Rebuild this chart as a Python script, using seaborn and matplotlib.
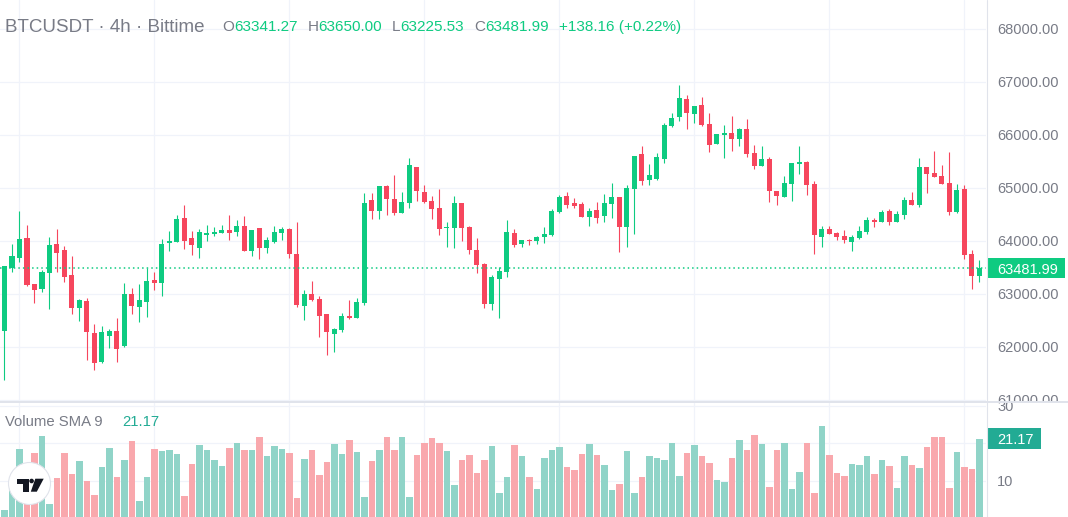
import numpy as np
import pandas as pd
import matplotlib
matplotlib.use("Agg")
import matplotlib.pyplot as plt
import seaborn as sns
from matplotlib.patches import Rectangle, Circle, Polygon

# ---------------- data ----------------
opens = [62303, 63497, 63686, 64059, 63187, 63099, 63402, 63945, 63831, 63358,
         62738, 62865, 62258, 61715, 62208, 62296, 62018, 62998, 62757, 62852,
         63263, 63212, 63970, 63989, 64438, 64059, 63876, 64122, 64141, 64160,
         64210, 64172, 64286, 63819, 64248, 63876, 63983, 64160, 64229, 63762,
         62776, 62998, 62903, 62618, 62246, 62315, 62581, 62549, 62827, 64779,
         64570, 65044, 64798, 64533, 64722, 65404, 64931, 64760, 64627, 64236,
         64248, 64722, 64267, 63831, 63566, 62814, 63288, 63421, 64154, 63951,
         64027, 64008, 64078, 64116, 64551, 64855, 64722, 64703, 64457, 64589,
         64476, 64703, 64836, 64267, 64987, 65648, 65158, 65177, 65553, 66176,
         66346, 66686, 66402, 66572, 66214, 65836, 66006, 66038, 65924, 66113,
         65660, 65414, 65547, 64942, 64829, 65074, 65458, 65490, 65074, 64073,
         64224, 64149, 64092, 63979, 64054, 64168, 64394, 64356, 64564, 64356,
         64489, 64772, 64678, 65395, 65282, 65225, 65093, 64545, 64980, 63752,
         63341.27]
highs = [63528, 63945, 64570, 64305, 63187, 63452, 64078, 64229, 63907, 63718,
         62903, 62928, 62429, 62391, 62347, 62543, 63206, 63118, 63193, 63490,
         63414, 64040, 64191, 64495, 64684, 64191, 64229, 64305, 64267, 64305,
         64495, 64400, 64476, 64210, 64248, 64078, 64286, 64267, 64248, 64362,
         63073, 63244, 62960, 62618, 62353, 62637, 62884, 62922, 64912, 64912,
         65044, 65063, 65253, 64931, 65575, 65404, 65063, 64855, 64987, 64362,
         64855, 64722, 64286, 64059, 63585, 63358, 63509, 64400, 64229, 64021,
         64040, 64097, 64267, 64608, 64874, 64931, 64817, 64741, 64627, 64741,
         64893, 65101, 64836, 65063, 65613, 65799, 65461, 65651, 66233, 66421,
         66950, 66761, 66553, 66723, 66421, 66025, 66189, 66359, 66132, 66302,
         65811, 65792, 65584, 64942, 65225, 65471, 65792, 65509, 65131, 64281,
         64281, 64168, 64205, 64111, 64281, 64451, 64432, 64583, 64602, 64564,
         64829, 64923, 65565, 65395, 65698, 65433, 65679, 65074, 65055, 63828,
         63650.00]
lows = [61368, 63421, 63610, 63155, 62833, 63042, 62720, 63421, 63231, 62625,
        62486, 61747, 61557, 61696, 61980, 61715, 61999, 62625, 62467, 62568,
        63080, 62966, 63819, 63989, 63857, 63743, 63686, 64008, 64103, 64160,
        64021, 64097, 63819, 63724, 63667, 63781, 63970, 64021, 63686, 62757,
        62511, 62871, 62189, 61848, 61905, 62277, 62530, 62549, 62795, 64419,
        64419, 64495, 64495, 64533, 64627, 64760, 64722, 64419, 64116, 63888,
        63869, 64002, 63762, 63402, 62738, 62701, 62549, 63326, 63895, 63895,
        63932, 63951, 63970, 64097, 64533, 64627, 64627, 64457, 64286, 64343,
        64362, 64438, 63793, 63888, 64135, 65050, 65063, 65158, 65480, 66157,
        66270, 66119, 66233, 66176, 65685, 65836, 65565, 65698, 65792, 65584,
        65358, 65414, 64734, 64678, 64829, 64753, 65263, 64867, 63752, 63884,
        64130, 64016, 63960, 63809, 64035, 64130, 64262, 64356, 64300, 64356,
        64413, 64678, 64640, 64904, 65207, 65074, 64489, 64527, 63657, 63091,
        63225.53]
closes = [63528, 63718, 64040, 63174, 63080, 63414, 63926, 63781, 63326, 62738,
          62884, 62284, 61696, 62277, 62296, 61962, 62998, 62776, 62884, 63244,
          63212, 63945, 64002, 64419, 64008, 63926, 64172, 64154, 64172, 64210,
          64160, 64286, 63819, 64210, 63876, 64021, 64172, 64229, 63762, 62795,
          62998, 62890, 62587, 62284, 62334, 62581, 62549, 62846, 64722, 64558,
          65044, 64798, 64533, 64741, 65442, 64949, 64741, 64608, 64229, 64267,
          64722, 64248, 63838, 63553, 62814, 63320, 63433, 64172, 63926, 64021,
          64008, 64078, 64135, 64570, 64836, 64684, 64665, 64457, 64570, 64438,
          64722, 64836, 64267, 65006, 65613, 65126, 65253, 65594, 66195, 66327,
          66704, 66421, 66553, 66195, 65817, 66025, 66038, 65924, 66113, 65641,
          65414, 65547, 64942, 64848, 65093, 65471, 65490, 65055, 64111, 64224,
          64130, 64073, 64016, 64073, 64186, 64394, 64356, 64545, 64356, 64508,
          64772, 64678, 65395, 65263, 65207, 65074, 64545, 64961, 63733, 63343.83,
          63481.99]
volumes = [2.3, 9.0, 18.5, 11.0, 17.4, 21.9, 3.9, 10.8, 17.4, 11.8,
           15.3, 10.0, 6.3, 13.7, 18.7, 11.1, 15.6, 20.6, 4.7, 11.1,
           18.5, 17.9, 18.2, 17.2, 6.0, 14.5, 19.5, 18.2, 15.6, 14.0,
           18.7, 20.1, 18.2, 18.2, 21.7, 16.6, 19.3, 18.5, 17.4, 5.5,
           15.8, 18.2, 11.6, 15.0, 19.8, 17.2, 20.9, 17.7, 5.7, 15.3,
           18.2, 21.7, 18.2, 21.7, 5.7, 16.9, 20.1, 21.4, 20.1, 17.9,
           8.9, 15.6, 16.9, 12.1, 15.6, 19.3, 6.8, 11.1, 19.5, 16.6,
           11.1, 7.9, 16.1, 18.2, 19.0, 13.7, 12.9, 17.2, 19.8, 16.9,
           14.2, 7.6, 9.2, 17.9, 6.8, 11.1, 16.6, 16.1, 15.6, 20.1,
           11.3, 17.4, 19.5, 16.6, 14.8, 10.3, 9.7, 16.1, 20.9, 18.2,
           22.2, 19.8, 8.4, 18.2, 20.1, 7.9, 12.4, 20.1, 6.8, 24.6,
           16.9, 12.1, 11.3, 14.5, 14.2, 16.6, 11.8, 15.6, 14.0, 8.1,
           16.6, 14.2, 13.4, 19.0, 21.7, 21.7, 8.1, 17.7, 13.7, 13.2,
           21.17]
price_ticks = [61000, 62000, 63000, 64000, 65000, 66000, 67000, 68000]
volume_ticks = [10, 20, 30]
symbol_title = "BTCUSDT \u00b7 4h \u00b7 Bittime"
sma_title = "Volume SMA 9"
sma_value = 21.17

# ---------------- style ----------------
sns.set_theme(style="white")
plt.rcParams["font.family"] = ["Liberation Sans", "DejaVu Sans"]

UP = "#0ecb81"
DOWN = "#f6465d"
VUP = "#90d4c8"
VDOWN = "#f9a8ad"
GRID = "#f0f3fa"
BORDER = "#e0e3eb"
TXT = "#787b86"

W, H = 1068, 517
PLOT_R = 986
SPLIT = 401

fig = plt.figure(figsize=(W / 100, H / 100), dpi=100)
fig.patch.set_facecolor("white")


def px_rect(x0, y0, x1, y1):
    return [x0 / W, 1 - y1 / H, (x1 - x0) / W, (y1 - y0) / H]


ax = fig.add_axes(px_rect(0, 0, PLOT_R, SPLIT))
axv = fig.add_axes(px_rect(0, SPLIT + 1, PLOT_R, H))
axp = fig.add_axes(px_rect(PLOT_R, 0, W, SPLIT))
axvs = fig.add_axes(px_rect(PLOT_R, SPLIT + 1, W, H))
ov = fig.add_axes([0, 0, 1, 1])
ov.set_xlim(0, W)
ov.set_ylim(H, 0)
ov.axis("off")
ov.set_zorder(10)

n = len(opens)
x = np.arange(n)
o = np.array(opens, float)
c = np.array(closes, float)
hi = np.array(highs, float)
lo = np.array(lows, float)
up = c >= o
cols = np.where(up, UP, DOWN)

XLIM = (-0.6, 130.87)
PLIM = (60981, 68547)
VLIM = (0.45, 30.95)

for a in (ax, axv, axp, axvs):
    a.set_facecolor("white")
    for s in a.spines.values():
        s.set_visible(False)
    a.set_xticks([])
    a.set_yticks([])

# grid
gx = np.arange(2, n, 18) - 0.07
for p in price_ticks:
    ax.axhline(p, color=GRID, lw=0.9, zorder=0)
for v in volume_ticks:
    axv.axhline(v, color=GRID, lw=0.9, zorder=0)
for g in gx:
    ax.axvline(g, color=GRID, lw=0.9, zorder=0)
    axv.axvline(g, color=GRID, lw=0.9, zorder=0)

# candles
ax.vlines(x, lo, hi, colors=cols, lw=0.8, zorder=2)
body = np.maximum(np.abs(c - o), 19)
ax.bar(x, body, bottom=np.minimum(o, c), width=0.667, color=cols, lw=0, zorder=3)
ax.axhline(c[-1], color=UP, lw=1.1, ls=(0, (1, 2)), zorder=4)
ax.set_xlim(*XLIM)
ax.set_ylim(*PLIM)

# volume
vdf = pd.DataFrame({"idx": x, "vol": volumes, "dir": np.where(up, "up", "down")})
sns.barplot(data=vdf, x="idx", y="vol", hue="dir", palette={"up": VUP, "down": VDOWN},
            dodge=False, width=0.87, saturation=1, errorbar=None, legend=False,
            linewidth=0, ax=axv, zorder=2)
axv.set_xlim(*XLIM)
axv.set_ylim(*VLIM)
axv.set_xticks([])
axv.set_yticks([])
axv.set_xlabel("")
axv.set_ylabel("")

# price scale
axp.set_xlim(0, W - PLOT_R)
axp.set_ylim(*PLIM)
for p in price_ticks:
    axp.text(11, p, f"{p:.2f}", color=TXT, fontsize=10.5, va="center_baseline", ha="left", clip_on=True)
box_h = 20 / SPLIT * (PLIM[1] - PLIM[0])
axp.add_patch(Rectangle((1, c[-1] - box_h / 2), 78, box_h, color=UP, lw=0, zorder=5))
axp.text(11, c[-1], f"{c[-1]:.2f}", color="white", fontsize=10.5, va="center_baseline", ha="left", zorder=6)

# volume scale
axvs.set_xlim(0, W - PLOT_R)
axvs.set_ylim(*VLIM)
for v in volume_ticks:
    if v != 20:
        axvs.text(11, v, f"{v}", color=TXT, fontsize=10.5, va="center_baseline", ha="left", clip_on=True)
vbox_h = 21 / (H - SPLIT - 1) * (VLIM[1] - VLIM[0])
axvs.add_patch(Rectangle((1, sma_value - vbox_h / 2), 54, vbox_h, color="#22ab94", lw=0, zorder=5))
axvs.text(11, sma_value, f"{sma_value:.2f}", color="white", fontsize=10.5, va="center_baseline", ha="left", zorder=6)

# borders
ov.plot([PLOT_R + 0.5, PLOT_R + 0.5], [0, H], color=BORDER, lw=0.8)
ov.plot([0, W], [SPLIT + 0.5, SPLIT + 0.5], color=BORDER, lw=1.4)

# header legend
fig.canvas.draw()
rend = fig.canvas.get_renderer()


def seq(x0, y0, pieces, size):
    xx = x0
    for txt, col, gap in pieces:
        t = ov.text(xx, y0, txt, color=col, fontsize=size, va="center", ha="left")
        bb = t.get_window_extent(renderer=rend)
        xx += bb.width + gap
    return xx


seq(5, 27, [(symbol_title, TXT, 0)], 13.5)
chg = c[-1] - c[-2]
pct = chg / c[-2] * 100
seq(222, 27, [("O", TXT, 0), (f"{o[-1]:.2f}", UP, 10),
              ("H", TXT, 0), (f"{hi[-1]:.2f}", UP, 10),
              ("L", TXT, 0), (f"{lo[-1]:.2f}", UP, 10),
              ("C", TXT, 0), (f"{c[-1]:.2f}", UP, 10),
              (f"{chg:+.2f} ({pct:+.2f}%)", UP, 0)], 11)
seq(5, 422, [(sma_title, TXT, 0)], 10.7)
ov.text(122, 422, f"{sma_value:.2f}", color="#22ab94", fontsize=10.7, va="center", ha="left")

# TradingView logo
ov.add_patch(Circle((29.5, 483.5), 21, facecolor="white", edgecolor=BORDER, lw=0.8, zorder=20))
ov.add_patch(Polygon([(17.3, 478.7), (28.7, 478.7), (28.7, 491.7), (23.3, 491.7),
                      (23.3, 483.5), (17.3, 483.5)], closed=True, color="#131722", lw=0, zorder=21))
ov.add_patch(Circle((31.6, 481.0), 2.3, color="#131722", lw=0, zorder=21))
ov.add_patch(Polygon([(35.3, 478.7), (43.7, 478.7), (36.8, 491.7), (30.8, 491.7)],
                     closed=True, color="#131722", lw=0, zorder=21))

fig.savefig("out.png", dpi=100, facecolor="white")
